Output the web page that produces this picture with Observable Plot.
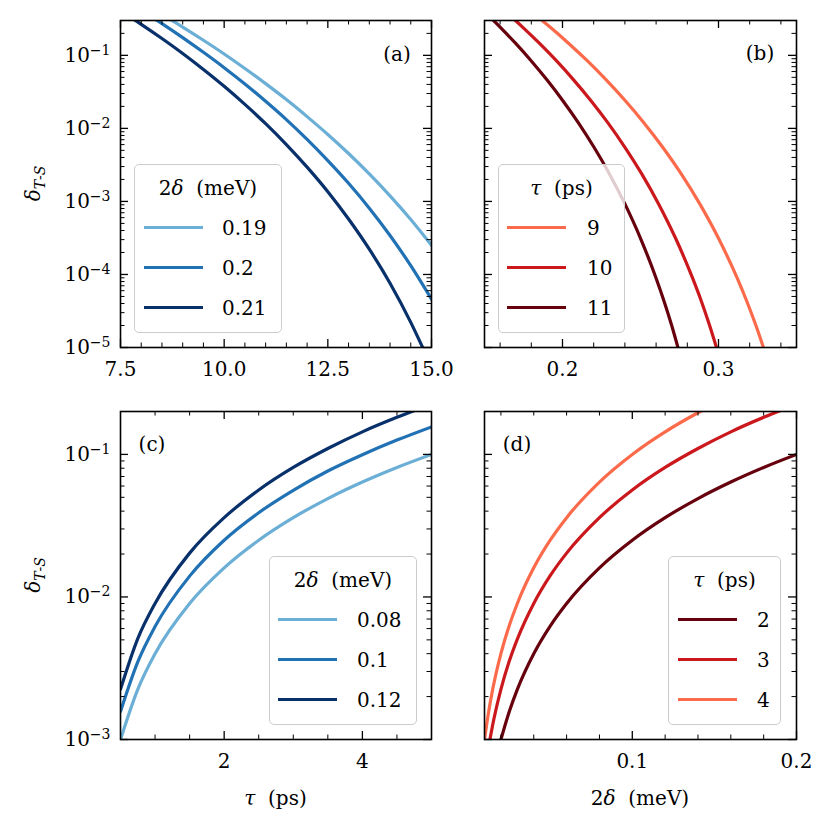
<!DOCTYPE html>
<html>
<head>
<meta charset="utf-8">
<script src="https://cdn.jsdelivr.net/npm/d3@7"></script>
<script src="https://cdn.jsdelivr.net/npm/@observablehq/plot@0.6"></script>
<style>
html, body { margin: 0; padding: 0; background: #fff; }
#root { position: relative; width: 832px; height: 832px; background: #fff; font-family: "DejaVu Serif", "Liberation Serif", "Noto Serif", serif; }
.panel { position: absolute; }
.panel svg { max-width: none !important; display: block; }
.legend { position: absolute; box-sizing: border-box; border: 1.4px solid #cccccc; border-radius: 5px; background: rgba(255,255,255,0.8); font-size: 20px; color: #000; }
.legend .t { position: absolute; left: 0; width: 100%; text-align: center; line-height: 28px; white-space: nowrap; }
.legend .h { position: absolute; height: 3.2px; }
.legend .l { position: absolute; line-height: 28px; white-space: nowrap; }
#overlay { position: absolute; left: 0; top: 0; pointer-events: none; }
</style>
</head>
<body>
<div id="root"></div>
<script>
// ---------- Data ----------
// Panel (a): delta_T-S vs tau (ps) for 2delta = 0.19, 0.2, 0.21 meV
const aLabels = ["0.19", "0.2", "0.21"];
const aTau019 = [8.5, 9.0, 9.5, 10.0, 10.5, 11.0, 11.5, 12.0, 12.5, 13.0, 13.5, 14.0, 14.5, 15.0];
const aVal019 = [0.363, 0.244, 0.161, 0.1045, 0.0662, 0.0410, 0.0248, 0.0145, 0.00826, 0.00453, 0.00238, 0.00119, 0.000565, 0.000251];
const aTau020 = [8.0, 8.5, 9.0, 9.5, 10.0, 10.5, 11.0, 11.5, 12.0, 12.5, 13.0, 13.5, 14.0, 14.5, 15.0];
const aVal020 = [0.413, 0.272, 0.175, 0.110, 0.0678, 0.0406, 0.0235, 0.0132, 0.00706, 0.00362, 0.00177, 0.000807, 0.000342, 0.000132, 0.0000459];
const aTau021 = [7.5, 8.0, 8.5, 9.0, 9.5, 10.0, 10.5, 11.0, 11.5, 12.0, 12.5, 13.0, 13.5, 14.0, 14.5, 14.8];
const aVal021 = [0.407, 0.266, 0.170, 0.106, 0.0641, 0.0377, 0.0213, 0.0116, 0.00601, 0.00295, 0.00136, 0.000575, 0.000222, 0.0000759, 0.0000221, 0.00000964];

// Panel (b): delta_T-S vs 2delta (meV) for tau = 9, 10, 11 ps
const bLabels = ["9", "10", "11"];
const bE9  = [0.180, 0.192, 0.204, 0.216, 0.228, 0.240, 0.252, 0.264, 0.276, 0.288, 0.300, 0.312, 0.318, 0.324, 0.330];
const bV9  = [0.396, 0.244, 0.1455, 0.0838, 0.0462, 0.0243, 0.01208, 0.00560, 0.00240, 0.000925, 0.000313, 0.0000889, 0.0000437, 0.0000200, 0.00000838];
const bE10 = [0.1635, 0.1744, 0.1853, 0.1962, 0.2071, 0.218, 0.2289, 0.2398, 0.2507, 0.2616, 0.2725, 0.2834, 0.2889, 0.2943, 0.2998];
const bV10 = [0.396, 0.244, 0.1455, 0.0838, 0.0462, 0.0243, 0.01208, 0.00560, 0.00240, 0.000925, 0.000313, 0.0000889, 0.0000437, 0.0000200, 0.00000838];
const bE11 = [0.150, 0.160, 0.170, 0.180, 0.190, 0.200, 0.210, 0.220, 0.230, 0.240, 0.250, 0.260, 0.265, 0.270, 0.275];
const bV11 = [0.396, 0.244, 0.1455, 0.0838, 0.0462, 0.0243, 0.01208, 0.00560, 0.00240, 0.000925, 0.000313, 0.0000889, 0.0000437, 0.0000200, 0.00000838];

// Panel (c): delta_T-S vs tau (ps) for 2delta = 0.08, 0.1, 0.12 meV
const cLabels = ["0.08", "0.1", "0.12"];
const cTau = [0.5, 0.75, 1, 1.5, 2, 2.5, 3, 3.5, 4, 4.5, 5];
const cVal008 = [0.00100, 0.00225, 0.0040, 0.0090, 0.0160, 0.0250, 0.0360, 0.0490, 0.0640, 0.0810, 0.100];
const cVal010 = [0.00157, 0.0035, 0.0062, 0.0140, 0.0250, 0.0390, 0.0560, 0.0765, 0.0995, 0.126, 0.156];
const cVal012 = [0.00225, 0.0051, 0.0090, 0.0203, 0.0360, 0.0563, 0.0810, 0.110, 0.144, 0.182, 0.225];

// Panel (d): delta_T-S vs 2delta (meV) for tau = 2, 3, 4 ps
const dLabels = ["2", "3", "4"];
const dE2 = [0.02, 0.025, 0.03, 0.04, 0.05, 0.06, 0.08, 0.10, 0.12, 0.14, 0.16, 0.18, 0.20];
const dV2 = [0.0010, 0.00156, 0.00225, 0.0040, 0.00625, 0.0090, 0.0160, 0.0250, 0.0360, 0.0490, 0.0640, 0.0810, 0.100];
const dE3 = [0.0133, 0.015, 0.02, 0.025, 0.03, 0.04, 0.05, 0.06, 0.08, 0.10, 0.12, 0.14, 0.16, 0.18, 0.20];
const dV3 = [0.0010, 0.00127, 0.00225, 0.00352, 0.00506, 0.0090, 0.0141, 0.0203, 0.0360, 0.0563, 0.0810, 0.110, 0.144, 0.182, 0.225];
const dE4 = [0.010, 0.0125, 0.015, 0.02, 0.025, 0.03, 0.04, 0.05, 0.06, 0.08, 0.10, 0.12, 0.14, 0.16];
const dV4 = [0.0010, 0.00156, 0.00225, 0.0040, 0.00625, 0.0090, 0.0160, 0.0250, 0.0360, 0.0640, 0.100, 0.144, 0.196, 0.256];

// Tick labels
const aXTicks = [7.5, 10.0, 12.5, 15.0];
const bXTicks = [0.2, 0.3];
const cXTicks = [2, 4];
const dXTicks = [0.1, 0.2];
const topYTicks = [1e-5, 1e-4, 1e-3, 1e-2, 1e-1];
const botYTicks = [1e-3, 1e-2, 1e-1];

const blues = ["#6baed6", "#2171b5", "#08306b"];
const reds  = ["#fb6a4a", "#cb181d", "#67000d"];

// ---------- Helpers ----------
const FONT = '"DejaVu Serif", "Liberation Serif", "Noto Serif", serif';
const FS = 20;
function linMinor(lo, hi, step, majors) {
  const out = [];
  for (let v = lo; v <= hi + 1e-9; v += step) {
    const r = Math.round(v / step) * step;
    if (!majors.some(m => Math.abs(m - r) < step * 1e-3)) out.push(r);
  }
  return out;
}
function logMinor(lo, hi) {
  const out = [];
  for (let k = Math.floor(Math.log10(lo)); k <= Math.ceil(Math.log10(hi)); k++)
    for (let m = 2; m <= 9; m++) {
      const v = m * Math.pow(10, k);
      if (v > lo * 1.0001 && v < hi * 1.0001) out.push(v);
    }
  return out;
}

const root = document.getElementById("root");

function panel(cfg) {
  const iw = cfg.width - cfg.mL - cfg.mR;
  const ih = cfg.height - cfg.mT - cfg.mB;
  const MAJ = 8, MIN = 4.5;
  const marks = [];
  cfg.series.forEach(s => {
    marks.push(Plot.line(d3.zip(s.x, s.y), {
      x: d => d[0], y: d => d[1], stroke: s.color, strokeWidth: 3.2,
      curve: "monotone-x", clip: true
    }));
  });
  const yMinor = logMinor(cfg.yDomain[0], cfg.yDomain[1]);
  const yMajor = cfg.yTicks;
  // inward ticks on all four sides
  marks.push(Plot.ruleX(cfg.xTicks, {x: d => d, insetTop: ih - MAJ, strokeWidth: 1.3}));
  marks.push(Plot.ruleX(cfg.xTicks, {x: d => d, insetBottom: ih - MAJ, strokeWidth: 1.3}));
  marks.push(Plot.ruleX(cfg.xMinor, {x: d => d, insetTop: ih - MIN, strokeWidth: 1.0}));
  marks.push(Plot.ruleX(cfg.xMinor, {x: d => d, insetBottom: ih - MIN, strokeWidth: 1.0}));
  marks.push(Plot.ruleY(yMajor, {y: d => d, insetRight: iw - MAJ, strokeWidth: 1.3}));
  marks.push(Plot.ruleY(yMajor, {y: d => d, insetLeft: iw - MAJ, strokeWidth: 1.3}));
  marks.push(Plot.ruleY(yMinor, {y: d => d, insetRight: iw - MIN, strokeWidth: 1.0}));
  marks.push(Plot.ruleY(yMinor, {y: d => d, insetLeft: iw - MIN, strokeWidth: 1.0}));
  marks.push(Plot.frame({stroke: "black", strokeWidth: 1.6}));

  const svg = Plot.plot({
    width: cfg.width, height: cfg.height,
    marginLeft: cfg.mL, marginRight: cfg.mR, marginTop: cfg.mT, marginBottom: cfg.mB,
    style: {fontFamily: FONT, fontSize: FS + "px", background: "transparent", color: "black", overflow: "visible"},
    x: {domain: cfg.xDomain, ticks: cfg.xTicks, tickFormat: cfg.xFmt, tickSize: 0, tickPadding: 14, label: null},
    y: cfg.showY
      ? {type: "log", domain: cfg.yDomain, ticks: yMajor, tickFormat: d => "10^" + Math.round(Math.log10(d)), tickSize: 0, tickPadding: 10, label: null}
      : {type: "log", domain: cfg.yDomain, axis: null},
    marks
  });
  // superscript exponents
  svg.querySelectorAll("text").forEach(t => {
    const m = /^10\^(-?\d+)$/.exec(t.textContent);
    if (m) {
      t.textContent = "10";
      const ts = document.createElementNS("http://www.w3.org/2000/svg", "tspan");
      ts.setAttribute("dy", "-0.5em");
      ts.setAttribute("font-size", "14px");
      ts.textContent = m[1].replace("-", "\u2212");
      t.appendChild(ts);
    }
  });
  const div = document.createElement("div");
  div.className = "panel";
  div.style.left = cfg.left + "px";
  div.style.top = cfg.top + "px";
  div.style.width = cfg.width + "px";
  div.style.height = cfg.height + "px";
  div.appendChild(svg);
  root.appendChild(div);
}

function legend(box, titleHTML, items) {
  const div = document.createElement("div");
  div.className = "legend";
  div.style.left = box.left + "px";
  div.style.top = box.top + "px";
  div.style.width = box.width + "px";
  div.style.height = box.height + "px";
  const t = document.createElement("div");
  t.className = "t";
  t.style.top = (24 - 14 - 1) + "px";
  t.innerHTML = titleHTML;
  div.appendChild(t);
  items.forEach((it, i) => {
    const ry = 63.5 + i * 40.2 - 1;
    const h = document.createElement("div");
    h.className = "h";
    h.style.left = box.hx + "px";
    h.style.width = "59px";
    h.style.top = (ry - 1.6) + "px";
    h.style.background = it.color;
    div.appendChild(h);
    const l = document.createElement("div");
    l.className = "l";
    l.style.left = box.lx + "px";
    l.style.top = (ry - 14) + "px";
    l.textContent = it.label;
    div.appendChild(l);
  });
  root.appendChild(div);
}

// ---------- Panels ----------
panel({
  left: 0, top: 0, width: 450, height: 400, mL: 120, mR: 19, mT: 20, mB: 53,
  xDomain: [7.5, 15], yDomain: [1e-5, 0.3], xTicks: aXTicks, xMinor: linMinor(7.5, 15, 0.5, aXTicks),
  xFmt: d3.format(".1f"), yTicks: topYTicks, showY: true,
  series: [
    {x: aTau019, y: aVal019, color: blues[0]},
    {x: aTau020, y: aVal020, color: blues[1]},
    {x: aTau021, y: aVal021, color: blues[2]}
  ]
});
panel({
  left: 450, top: 0, width: 382, height: 400, mL: 34, mR: 36, mT: 20, mB: 53,
  xDomain: [0.15, 0.35], yDomain: [1e-5, 0.3], xTicks: bXTicks, xMinor: linMinor(0.16, 0.34, 0.02, bXTicks),
  xFmt: d3.format(".1f"), yTicks: topYTicks, showY: false,
  series: [
    {x: bE9, y: bV9, color: reds[0]},
    {x: bE10, y: bV10, color: reds[1]},
    {x: bE11, y: bV11, color: reds[2]}
  ]
});
panel({
  left: 0, top: 400, width: 450, height: 432, mL: 120, mR: 19, mT: 11, mB: 93,
  xDomain: [0.5, 5], yDomain: [1e-3, 0.2], xTicks: cXTicks, xMinor: linMinor(1.0, 4.5, 0.5, cXTicks),
  xFmt: d3.format("d"), yTicks: botYTicks, showY: true,
  series: [
    {x: cTau, y: cVal008, color: blues[0]},
    {x: cTau, y: cVal010, color: blues[1]},
    {x: cTau, y: cVal012, color: blues[2]}
  ]
});
panel({
  left: 450, top: 400, width: 382, height: 432, mL: 34, mR: 36, mT: 11, mB: 93,
  xDomain: [0.01, 0.2], yDomain: [1e-3, 0.2], xTicks: dXTicks, xMinor: linMinor(0.02, 0.18, 0.02, dXTicks),
  xFmt: d3.format(".1f"), yTicks: botYTicks, showY: false,
  series: [
    {x: dE2, y: dV2, color: reds[2]},
    {x: dE3, y: dV3, color: reds[1]},
    {x: dE4, y: dV4, color: reds[0]}
  ]
});

// ---------- Text overlay (axis titles, panel letters) ----------
const ov = d3.select(root).append("svg").attr("id", "overlay").attr("width", 832).attr("height", 832)
  .style("font-family", FONT).style("font-size", FS + "px");
function yTitle(cy) {
  const t = ov.append("text").attr("transform", `translate(40,${cy}) rotate(-90)`).attr("text-anchor", "middle");
  t.append("tspan").attr("font-style", "italic").text("δ");
  t.append("tspan").attr("dy", 5).attr("font-size", "14px").attr("font-style", "italic").text("T");
  t.append("tspan").attr("font-size", "14px").text("-");
  t.append("tspan").attr("font-size", "14px").attr("font-style", "italic").text("S");
}
yTitle(183.5);
yTitle(575);
const xt1 = ov.append("text").attr("x", 275.5).attr("y", 805).attr("text-anchor", "middle");
xt1.append("tspan").attr("font-style", "italic").text("τ");
xt1.append("tspan").text("\u00a0\u00a0(ps)");
const xt2 = ov.append("text").attr("x", 640).attr("y", 805).attr("text-anchor", "middle");
xt2.append("tspan").text("2");
xt2.append("tspan").attr("font-style", "italic").text("δ");
xt2.append("tspan").text("\u00a0\u00a0(meV)");
[["(a)", 397, 61], ["(b)", 760, 60], ["(c)", 152, 451], ["(d)", 517, 451]].forEach(([s, x, y]) => {
  ov.append("text").attr("x", x).attr("y", y).attr("text-anchor", "middle").text(s);
});

// ---------- Legends ----------
const tD = '2<i>δ</i>&nbsp;&nbsp;(meV)';
const tT = '<i>τ</i>&nbsp;&nbsp;(ps)';
legend({left: 134, top: 164, width: 148, height: 169, hx: 9, lx: 87}, tD,
  aLabels.map((l, i) => ({label: l, color: blues[i]})));
legend({left: 498, top: 164, width: 127, height: 169, hx: 8, lx: 88}, tT,
  bLabels.map((l, i) => ({label: l, color: reds[i]})));
legend({left: 269, top: 556, width: 148, height: 169, hx: 8, lx: 87}, tD,
  cLabels.map((l, i) => ({label: l, color: blues[i]})));
legend({left: 668, top: 556, width: 113, height: 169, hx: 9, lx: 88}, tT,
  dLabels.map((l, i) => ({label: l, color: reds[2 - i]})));
</script>
</body>
</html>
